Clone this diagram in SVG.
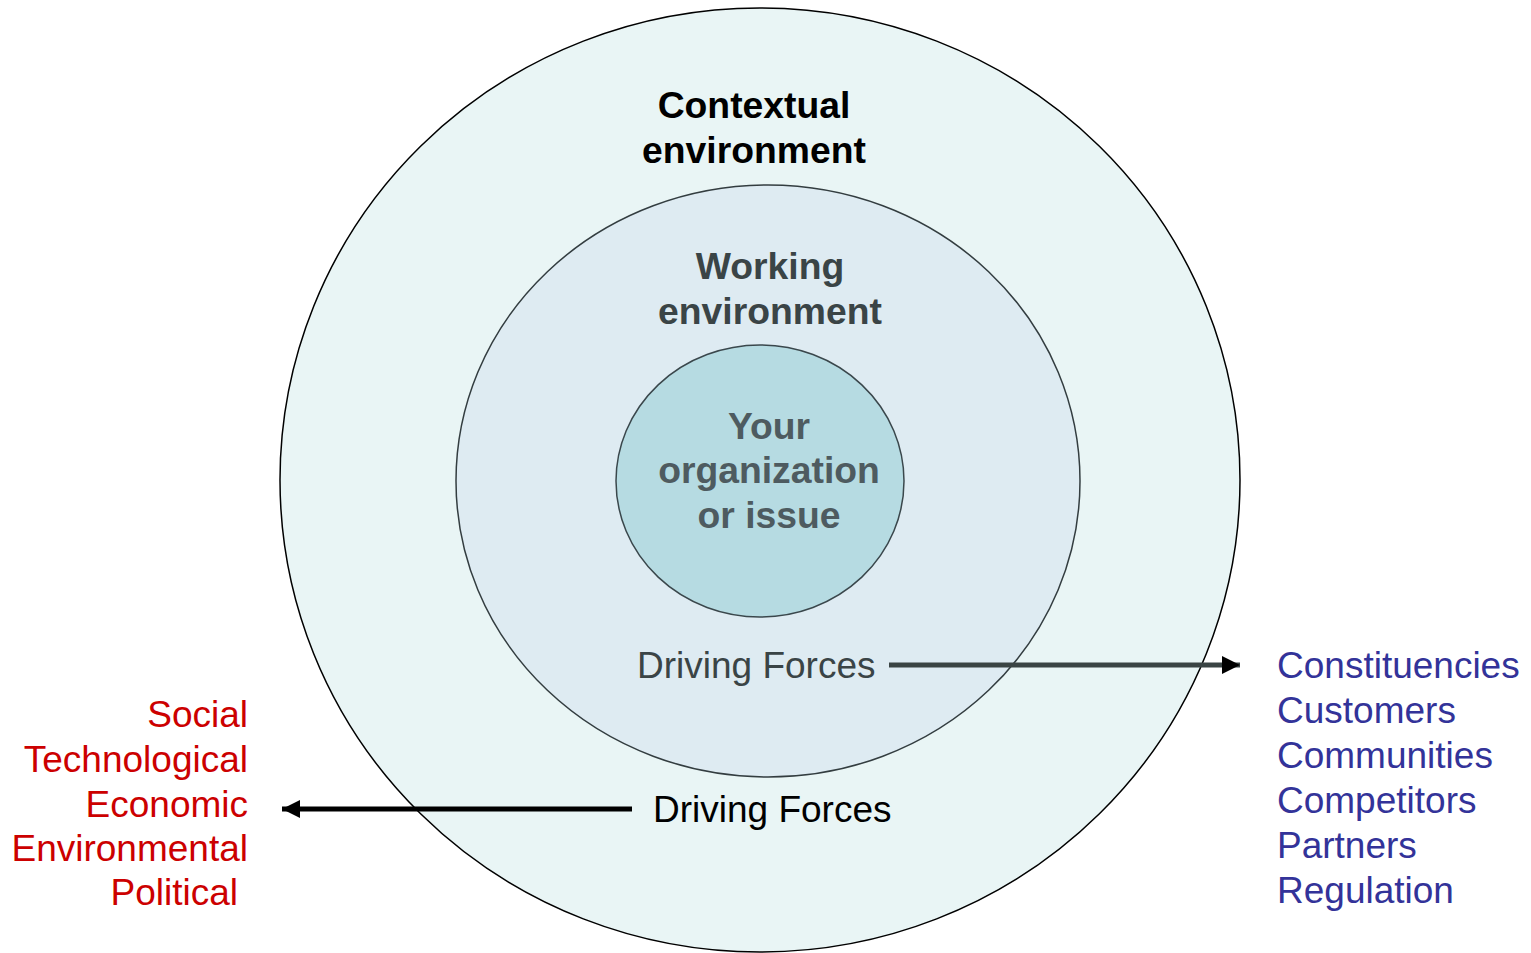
<svg xmlns="http://www.w3.org/2000/svg" width="1531" height="953" viewBox="0 0 1531 953">
<style>
text{font-family:"Liberation Sans",Arial,sans-serif;}
.t{font-size:37.3px;font-weight:bold;text-anchor:middle;}
.l{font-size:37px;}
.red{fill:#cc0000;text-anchor:end;}
.blue{fill:#333399;}
</style>
<defs>
<marker id="ah" viewBox="0 0 10 10" refX="10" refY="5" markerWidth="4.4" markerHeight="3.6" markerUnits="strokeWidth" orient="auto">
<path d="M0,0 L10,5 L0,10 z" fill="#000"/>
</marker>
</defs>
<rect width="1531" height="953" fill="#fff"/>
<g id="contextual">
<ellipse cx="760" cy="480" rx="480" ry="472" fill="#e9f5f5" stroke="#000" stroke-width="1.5"/>
<text class="t" x="754" y="118" fill="#000">Contextual</text>
<text class="t" x="754" y="163" fill="#000">environment</text>
</g>
<g id="working">
<ellipse cx="768" cy="481" rx="312" ry="296" fill="#deebf2" stroke="#333d40" stroke-width="1.5"/>
<text class="t" x="770" y="279" fill="#3a4446">Working</text>
<text class="t" x="770" y="324" fill="#3a4446">environment</text>
</g>
<g id="organization">
<ellipse cx="760" cy="481" rx="144" ry="136" fill="#b6dbe2" stroke="#3a474c" stroke-width="1.5"/>
<text class="t" x="769" y="439" fill="#4e5b60">Your</text>
<text class="t" x="769" y="483" fill="#4e5b60">organization</text>
<text class="t" x="769" y="528" fill="#4e5b60">or issue</text>
</g>
<g id="connectors">
<line x1="889" y1="665" x2="1240" y2="665" stroke="#3a4444" stroke-width="5" marker-end="url(#ah)"/>
<line x1="632" y1="809" x2="282" y2="809" stroke="#000" stroke-width="5" marker-end="url(#ah)"/>
</g>
<g id="driving-working">
<text class="l" x="637" y="678" fill="#3a4446">Driving Forces</text>
</g>
<g id="driving-contextual">
<text class="l" x="653" y="822" fill="#000">Driving Forces</text>
</g>
<g id="steep">
<text class="l red" x="248" y="727">Social</text>
<text class="l red" x="248" y="772">Technological</text>
<text class="l red" x="248" y="817">Economic</text>
<text class="l red" x="248" y="861">Environmental</text>
<text class="l red" x="238" y="905">Political</text>
</g>
<g id="stakeholders">
<text class="l blue" x="1277" y="678">Constituencies</text>
<text class="l blue" x="1277" y="723">Customers</text>
<text class="l blue" x="1277" y="768">Communities</text>
<text class="l blue" x="1277" y="813">Competitors</text>
<text class="l blue" x="1277" y="858">Partners</text>
<text class="l blue" x="1277" y="903">Regulation</text>
</g>
</svg>
